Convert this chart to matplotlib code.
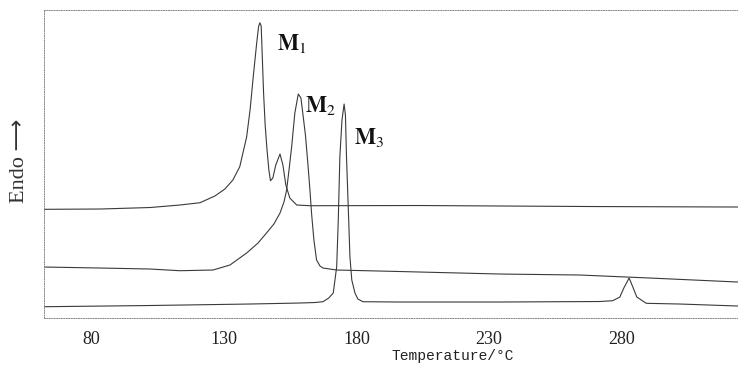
# -*- coding: utf-8 -*-
"""
DSC curves of M1, M2 and M3
"""
import matplotlib
matplotlib.use( "Agg" )
import matplotlib.pyplot as plt

# Curve of M1 (temperature / deg C, heat flow in arbitrary units)
M1_Temp = [ 62.0, 83.1, 102.0, 113.3, 120.9, 126.5, 130.3, 133.3, 135.9, 138.5,
            139.8, 141.0, 142.3, 143.0, 143.5, 144.0, 144.9, 145.5, 146.2, 146.9,
            147.5, 148.4, 149.5, 151.1, 152.2, 153.3, 154.8, 157.4, 162.4, 203.9,
            268.0, 323.9 ]
M1_Value = [ 108.7, 109.0, 110.5, 113.0, 115.3, 122.0, 129.0, 138.0, 151.3, 181.0,
             208.0, 241.3, 275.0, 291.3, 295.3, 292.0, 225.0, 193.0, 168.0, 148.0,
             137.3, 140.0, 153.0, 164.0, 153.0, 133.0, 120.0, 113.0, 112.3, 112.5,
             111.5, 111.0 ]

# Curve of M2
M2_Temp = [ 62.0, 83.1, 102.0, 113.3, 125.8, 132.2, 138.5, 142.8, 146.0, 148.8,
            151.1, 152.6, 153.6, 154.5, 155.5, 156.7, 158.0, 159.0, 159.7, 160.7,
            161.6, 162.4, 163.0, 163.9, 164.9, 166.2, 167.3, 172.5, 196.3, 234.1,
            264.3, 290.7, 323.9 ]
M2_Value = [ 51.0, 50.0, 49.0, 47.3, 48.0, 53.0, 65.0, 75.0, 85.0, 94.0,
             105.0, 116.0, 128.0, 148.0, 171.3, 205.0, 224.0, 220.0, 205.0, 183.0,
             155.0, 128.0, 105.0, 78.0, 58.0, 52.0, 50.0, 48.0, 46.5, 44.0,
             43.0, 40.0, 36.0 ]

# Curve of M3
M3_Temp = [ 62.0, 102.0, 139.7, 158.6, 164.3, 167.3, 169.5, 171.2, 172.5, 173.1,
            173.7, 174.5, 175.3, 175.8, 176.2, 176.9, 177.5, 178.2, 179.4, 180.5,
            182.4, 196.3, 234.1, 271.8, 276.7, 279.4, 280.9, 282.9, 284.3, 285.8,
            289.4, 302.0, 323.9 ]
M3_Value = [ 11.3, 12.5, 14.0, 15.0, 15.5, 16.3, 20.0, 25.0, 51.3, 98.0,
             161.3, 198.0, 214.0, 203.0, 161.3, 108.0, 61.3, 38.0, 25.0, 19.0,
             16.3, 16.0, 16.0, 16.5, 17.3, 21.0, 30.0, 40.0, 31.0, 21.0,
             14.7, 14.0, 12.0 ]

XTicks = [ 80, 130, 180, 230, 280 ]

# Sample names and where they are written
Labels = [ r"$\mathbf{M}_{1}$", r"$\mathbf{M}_{2}$", r"$\mathbf{M}_{3}$" ]
LabelTemp = [ 149.9, 160.5, 179.0 ]
LabelValue = [ 268.0, 206.5, 174.0 ]


def main():
    plt.rcParams[ "mathtext.fontset" ] = "stix"

    Figure = plt.figure( figsize=( 7.38, 3.66 ), dpi=100 )
    Axis = Figure.add_axes( [ 0.0596, 0.1311, 0.9404, 0.8415 ] )

    # Print curves
    LineColor = "#3a3a3a"
    Axis.plot( M1_Temp, M1_Value, color=LineColor, linewidth=0.8 )
    Axis.plot( M2_Temp, M2_Value, color=LineColor, linewidth=0.8 )
    Axis.plot( M3_Temp, M3_Value, color=LineColor, linewidth=0.8 )

    for Text, X, Y in zip( Labels, LabelTemp, LabelValue ):
        Axis.text( X, Y, Text, fontsize=16, color="#111111" )

    # Adjust axis
    Axis.set_xlim( 62, 324 )
    Axis.set_ylim( 0, 308 )
    Axis.set_xticks( XTicks )
    Axis.set_xticklabels( [ str( T ) for T in XTicks ],
                          fontfamily="Liberation Serif", fontsize=13 )
    Axis.set_yticks( [] )
    Axis.tick_params( axis="x", length=0, pad=9, colors="#222222" )

    for Name in [ "top", "left", "bottom" ]:
        Axis.spines[ Name ].set_linestyle( ( 0, ( 1, 1.5 ) ) )
        Axis.spines[ Name ].set_linewidth( 0.7 )
        Axis.spines[ Name ].set_color( "#888888" )
    Axis.spines[ "right" ].set_visible( False )

    Figure.text( 0.614, 0.026, "Temperature/°C", ha="center", va="center",
                 fontfamily="Liberation Mono", fontsize=10.5, color="#222222" )
    Figure.text( 0.027, 0.56, "Endo ⟶", rotation=90, ha="center",
                 va="center", fontfamily=[ "Liberation Serif", "DejaVu Sans" ],
                 fontsize=16, color="#333333" )

    Figure.savefig( "out.png", dpi=100 )


main()
